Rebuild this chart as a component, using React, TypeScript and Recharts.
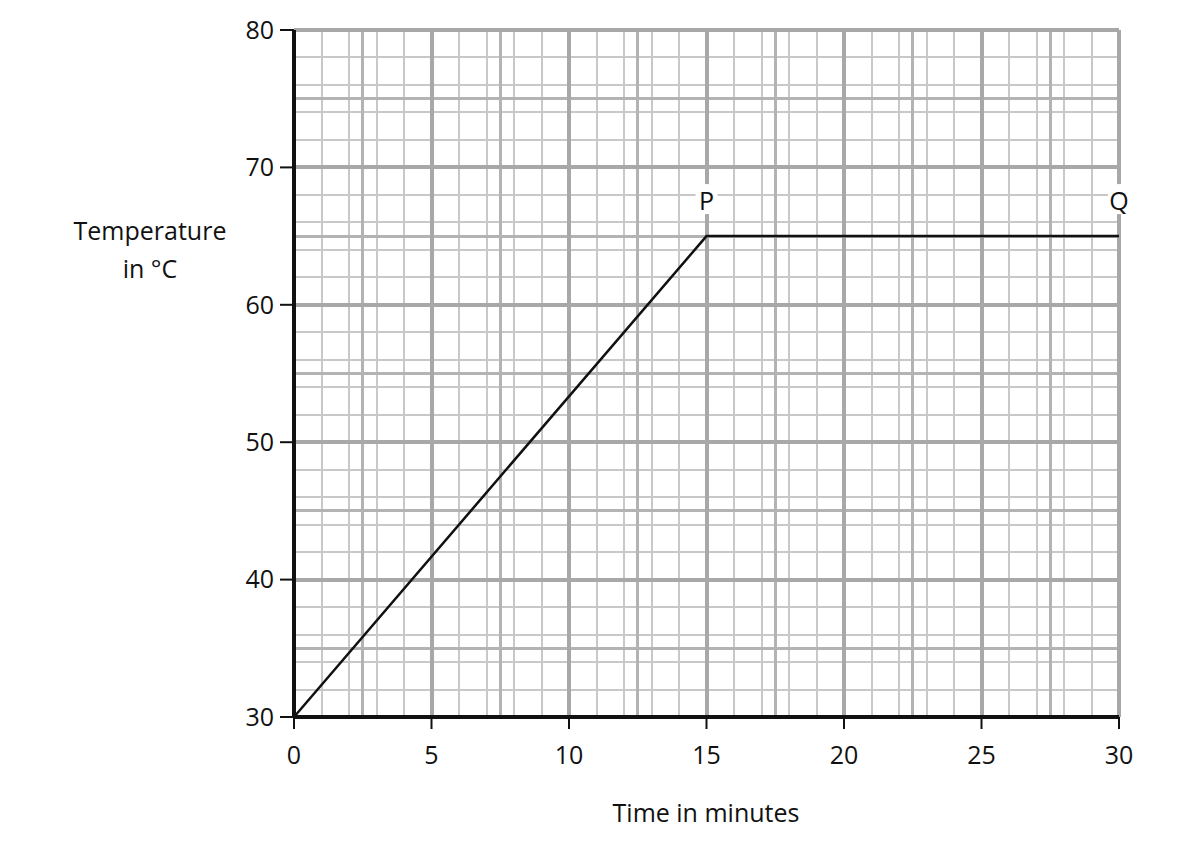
import React from 'react';
import { LineChart, Line, XAxis, YAxis, CartesianGrid } from 'recharts';

const times = [0, 15, 30];
const temps = [30, 65, 65];
const pointLabels = ['', 'P', 'Q'];

const xTicks = [0, 5, 10, 15, 20, 25, 30];
const yTicks = [30, 40, 50, 60, 70, 80];

const xMid = [2.5, 7.5, 12.5, 17.5, 22.5, 27.5];
const yMid = [35, 45, 55, 65, 75];

// fine grid: every 0.5 min and every 1 °C
const xFine: number[] = [];
for (let i = 0; i <= 60; i++) xFine.push(i * 0.5);
const yFine: number[] = [];
for (let i = 30; i <= 80; i++) yFine.push(i);

const data = times.map((t, i) => ({ t, temp: temps[i], label: pointLabels[i] }));

const FONT = '"Open Sans", "Noto Sans", sans-serif';
const FS = 25;

const PointLabel = (props: any) => {
  const { x, y, index } = props;
  const text = pointLabels[index];
  if (!text) return null;
  return (
    <g>
      <rect x={x - 11} y={y - 52} width={22} height={30} fill="#ffffff" />
      <text x={x} y={y - 26} textAnchor="middle" fontSize={FS} fontFamily={FONT} fill="#111">
        {text}
      </text>
    </g>
  );
};

export default function App() {
  return (
    <div style={{ position: 'relative', width: 1180, height: 842, fontFamily: FONT, color: '#111' }}>
      <LineChart
        width={1180}
        height={842}
        data={data}
        margin={{ top: 22, right: 69, bottom: 93, left: 226 }}
      >
        <CartesianGrid
          horizontalValues={yFine}
          verticalValues={xFine}
          stroke="#c8c8c8"
          strokeWidth={2}
          shapeRendering="crispEdges"
        />
        <CartesianGrid
          horizontalValues={yMid}
          verticalValues={xMid}
          stroke="#b3b3b3"
          strokeWidth={3}
          shapeRendering="crispEdges"
        />
        <CartesianGrid
          horizontalValues={yTicks}
          verticalValues={xTicks}
          stroke="#a8a8a8"
          strokeWidth={4}
          shapeRendering="crispEdges"
        />
        <XAxis
          dataKey="t"
          type="number"
          domain={[0, 30]}
          ticks={xTicks}
          height={40}
          axisLine={{ stroke: '#111', strokeWidth: 4 }}
          tickLine={{ stroke: '#111', strokeWidth: 2 }}
          tickSize={12}
          tickMargin={17}
          tick={{ fill: '#111', fontSize: FS, fontFamily: FONT }}
        />
        <YAxis
          dataKey="temp"
          type="number"
          domain={[30, 80]}
          ticks={yTicks}
          width={60}
          axisLine={{ stroke: '#111', strokeWidth: 4 }}
          tickLine={{ stroke: '#111', strokeWidth: 2 }}
          tickSize={14}
          tickMargin={6}
          tick={{ fill: '#111', fontSize: FS, fontFamily: FONT }}
        />
        <Line
          type="linear"
          dataKey="temp"
          stroke="#111"
          strokeWidth={2.5}
          dot={false}
          isAnimationActive={false}
          label={<PointLabel />}
        />
      </LineChart>
      <div
        style={{
          position: 'absolute',
          left: 42,
          top: 203,
          width: 200,
          textAlign: 'center',
          fontSize: FS,
          lineHeight: '38px',
        }}
      >
        Temperature
        <br />
        in °C
      </div>
      <div
        style={{
          position: 'absolute',
          left: 498,
          top: 789,
          width: 400,
          textAlign: 'center',
          fontSize: FS,
          lineHeight: '30px',
        }}
      >
        Time in minutes
      </div>
    </div>
  );
}
